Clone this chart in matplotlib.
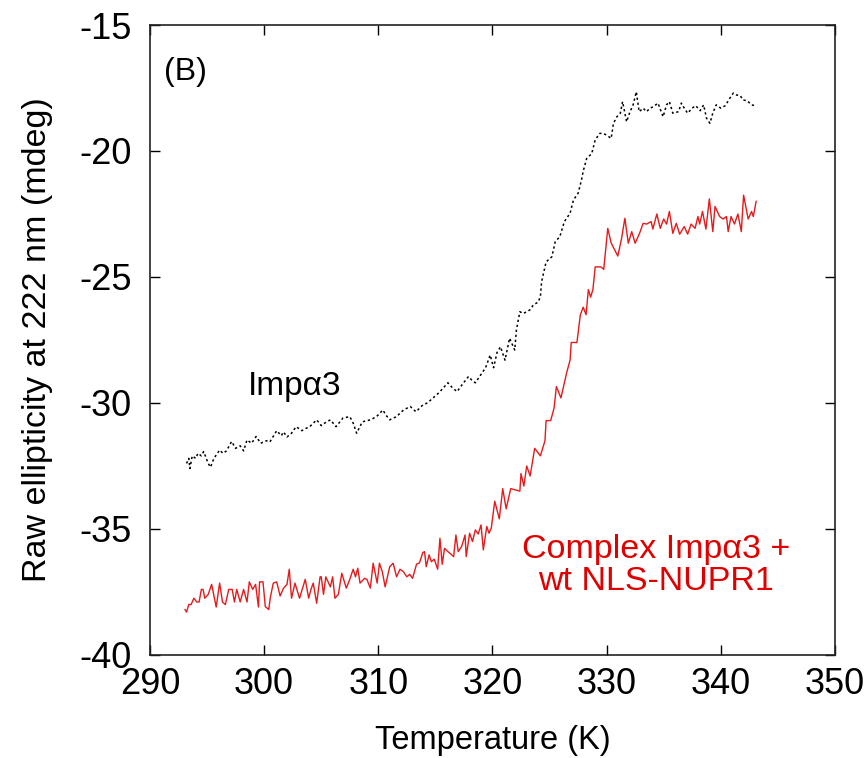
import matplotlib
matplotlib.use("Agg")
import matplotlib.pyplot as plt

plt.rcParams['font.family'] = ['Liberation Sans', 'DejaVu Sans']
plt.rcParams['axes.unicode_minus'] = False

# Impα3 alone (black dashed)
imp_T = [293.2, 293.4, 293.5, 293.7, 294.0, 294.2, 294.5, 294.7, 295.1, 295.3, 295.6, 296.1,
         296.4, 296.7, 297.15, 297.5, 297.9, 298.2, 298.5, 298.9, 299.3, 299.7, 300.2, 300.5,
         301.1, 301.5, 301.7, 302.0, 302.4, 302.8, 303.3, 303.7, 304.0, 304.6, 305.0, 305.3,
         305.8, 306.3, 306.9, 307.5, 307.8, 308.1, 308.6, 309.3, 309.85, 310.4, 310.7, 311.0,
         311.6, 312.2, 312.8, 313.3, 313.9, 314.3, 314.8, 315.3, 315.7, 316.1, 316.5, 316.9,
         317.3, 317.9, 318.2, 318.5, 319.1, 319.4, 319.8, 320.1, 320.4, 320.7, 321.1, 321.5,
         321.95, 322.1, 322.4, 322.7, 323.0, 323.3, 323.6, 324.0, 324.2, 324.3, 324.7, 325.2,
         325.5, 325.9, 326.3, 326.8, 327.1, 327.5, 327.8, 327.95, 328.25, 328.7, 329.0, 329.4,
         329.7, 330.0, 330.4, 330.6, 330.9, 331.2, 331.4, 331.75, 332.05, 332.3, 332.5, 332.6,
         332.85, 333.2, 333.5, 333.8, 334.1, 334.5, 334.95, 335.25, 335.5, 335.8, 336.3, 336.55,
         336.8, 337.1, 337.5, 337.8, 338.2, 338.5, 338.75, 339.05, 339.3, 339.6, 340.0, 340.4,
         340.8, 341.1, 341.4, 341.7, 341.96, 342.3, 342.7, 343.0]
imp_E = [-32.4, -32.2, -32.6, -32.1, -32.2, -32.0, -32.1, -31.93, -32.4, -32.55, -32.2, -31.87,
         -32.0, -31.9, -31.53, -31.8, -31.7, -31.9, -31.47, -31.6, -31.33, -31.6, -31.5, -31.55,
         -31.1, -31.3, -31.15, -31.35, -31.2, -30.94, -31.1, -31.0, -30.94, -30.67, -30.9, -30.8,
         -30.67, -30.94, -30.6, -30.54, -30.8, -31.2, -30.75, -30.67, -30.54, -30.28, -30.5, -30.67,
         -30.54, -30.28, -30.14, -30.35, -30.08, -30.0, -29.8, -29.6, -29.4, -29.2, -29.4, -29.55,
         -29.3, -28.95, -29.1, -29.2, -28.8, -28.6, -28.1, -28.6, -28.0, -27.77, -28.3, -27.43,
         -27.9, -27.1, -26.38, -26.45, -26.38, -26.3, -26.1, -26.0, -25.78, -25.2, -24.4, -24.2,
         -23.6, -23.4, -22.8, -22.47, -21.94, -21.68, -21.15, -20.8, -20.3, -20.1, -19.56, -19.3,
         -19.3, -19.37, -19.5, -18.9, -18.64, -18.5, -18.04, -18.84, -18.44, -18.2, -17.85, -17.65,
         -18.44, -18.3, -18.44, -18.3, -18.24, -18.1, -18.64, -18.17, -18.04, -18.5, -18.44, -18.1,
         -18.3, -18.5, -18.3, -18.2, -18.4, -18.17, -18.7, -18.9, -18.5, -18.17, -18.3, -18.2,
         -17.9, -17.7, -17.78, -17.8, -17.98, -18.0, -18.17, -18.2]

# Complex Impα3 + wt NLS-NUPR1 (red)
cpx_T = [293.07, 293.2, 293.4, 293.6, 293.85, 294.1, 294.3, 294.5, 294.65, 294.8, 295.1, 295.4,
         295.8, 296.1, 296.35, 296.6, 296.9, 297.2, 297.4, 297.6, 297.9, 298.2, 298.5, 298.7,
         299.0, 299.25, 299.5, 299.6, 299.9, 300.1, 300.4, 300.55, 300.8, 301.1, 301.4, 301.7,
         302.0, 302.2, 302.4, 302.7, 303.1, 303.6, 303.9, 304.1, 304.3, 304.6, 304.9, 305.0,
         305.2, 305.4, 305.8, 306.0, 306.2, 306.5, 306.8, 307.2, 307.5, 307.8, 308.0, 308.2,
         308.4, 308.8, 309.0, 309.3, 309.55, 309.9, 310.1, 310.35, 310.6, 311.0, 311.3, 311.6,
         311.9, 312.2, 312.5, 312.75, 313.0, 313.35, 313.6, 313.9, 314.05, 314.2, 314.45, 314.65,
         314.9, 315.2, 315.4, 315.6, 315.8, 316.1, 316.6, 316.8, 317.0, 317.3, 317.6, 317.7,
         318.0, 318.25, 318.5, 318.75, 319.0, 319.2, 319.5, 319.7, 319.9, 320.2, 320.6, 320.9,
         321.2, 321.6, 322.0, 322.4, 322.5, 322.75, 323.0, 323.3, 323.7, 324.2, 324.6, 324.7,
         325.1, 325.4, 325.6, 326.0, 326.5, 326.8, 326.9, 327.4, 327.7, 327.95, 328.2, 328.4,
         328.6, 328.8, 329.0, 329.25, 329.5, 329.75, 330.1, 330.4, 330.98, 331.3, 331.6, 331.9,
         332.2, 332.5, 332.9, 333.2, 333.5, 333.9, 334.05, 334.4, 334.7, 335.0, 335.25, 335.5,
         335.8, 336.1, 336.4, 336.8, 337.1, 337.4, 337.75, 338.0, 338.15, 338.4, 338.7, 339.0,
         339.3, 339.5, 339.9, 340.2, 340.5, 340.65, 340.9, 341.2, 341.5, 341.8, 342.0, 342.4,
         342.7, 342.85, 343.1]
cpx_E = [-38.2, -38.3, -38.0, -38.0, -37.75, -37.9, -37.9, -37.4, -37.4, -37.75, -37.6, -37.2,
         -38.1, -37.15, -37.9, -38.0, -37.4, -37.4, -37.9, -37.4, -37.9, -37.4, -37.9, -37.1,
         -37.4, -37.2, -38.1, -37.1, -37.1, -38.08, -38.2, -37.7, -37.15, -37.1, -37.66, -37.35,
         -37.2, -36.6, -37.75, -37.15, -37.75, -37.0, -37.75, -37.4, -37.15, -37.95, -36.9, -36.9,
         -37.6, -36.9, -37.3, -36.9, -37.75, -37.6, -36.76, -37.35, -37.0, -36.6, -36.9, -36.56,
         -37.15, -36.96, -37.0, -37.35, -36.36, -37.15, -36.36, -36.7, -37.3, -36.5, -36.36, -36.9,
         -36.6, -36.7, -36.9, -36.8, -36.96, -36.4, -36.35, -35.94, -35.9, -36.5, -36.03, -36.3,
         -36.2, -36.6, -35.37, -36.4, -35.77, -35.9, -36.1, -35.24, -35.9, -35.7, -35.24, -36.1,
         -35.17, -35.5, -35.04, -35.2, -34.84, -35.83, -34.9, -35.17, -34.96, -33.9, -34.6, -33.4,
         -34.2, -33.4, -33.45, -33.5, -32.8, -33.3, -32.5, -32.9, -31.8, -32.1, -31.5, -30.7,
         -30.7, -30.2, -29.35, -29.8, -28.8, -28.3, -27.6, -27.6, -26.5, -26.2, -26.5, -25.5,
         -25.8, -25.5, -24.6, -24.6, -24.6, -24.7, -23.07, -23.65, -24.17, -23.5, -22.67, -23.66,
         -23.2, -23.66, -23.25, -22.87, -22.9, -22.8, -23.1, -22.5, -23.07, -22.7, -22.9, -22.4,
         -23.27, -22.87, -23.3, -23.0, -23.3, -22.9, -23.07, -22.6, -22.9, -22.4, -23.1, -21.9,
         -23.2, -22.2, -22.6, -22.7, -22.6, -23.2, -22.6, -22.9, -22.5, -23.2, -21.75, -22.7,
         -22.4, -22.6, -22.0]

x_ticks = [290, 300, 310, 320, 330, 340, 350]
y_ticks = [-40, -35, -30, -25, -20, -15]

fig = plt.figure(figsize=(8.67, 7.58), dpi=100)
ax = fig.add_axes([0.173, 0.136, 0.790, 0.831])

ax.plot(imp_T, imp_E, color='black', lw=1.1, linestyle=(0, (1.5, 1.8)))
ax.plot(cpx_T, cpx_E, color='#e41a1c', lw=1.0)

ax.set_xlim(290, 350)
ax.set_ylim(-40, -15)
ax.set_xticks(x_ticks)
ax.set_yticks(y_ticks)
ax.tick_params(direction='in', length=7, width=1, top=True, right=True,
               labelsize=26, pad=9)
ax.tick_params(axis='y', pad=13)
for s in ax.spines.values():
    s.set_linewidth(1.2)
    s.set_color('#222222')

ax.set_xlabel('Temperature (K)', fontsize=23.5, labelpad=16)
ax.set_ylabel('Raw ellipticity at 222 nm (mdeg)', fontsize=24.5, labelpad=19)

ax.text(0.052, 0.926, '(B)', transform=ax.transAxes, fontsize=23, ha='center', va='center')
ax.text(302.7, -29.35, 'Impα3', fontsize=24, ha='center', va='center')
ax.text(334.3, -36.45, 'Complex Impα3 +\nwt NLS-NUPR1', fontsize=24.5, ha='center',
        va='center', color='#e00000', linespacing=1.05)

fig.savefig('out.png', dpi=100)
